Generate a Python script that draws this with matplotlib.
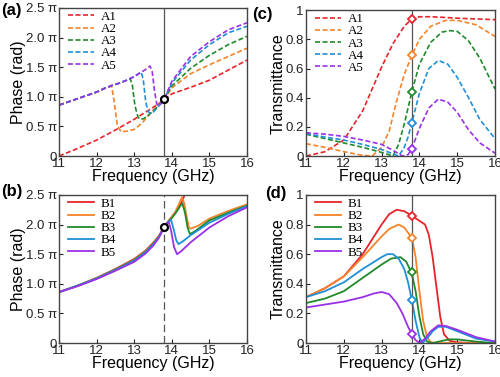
import numpy as np
import matplotlib
matplotlib.use("Agg")
import matplotlib.pyplot as plt

plt.rcParams['font.family'] = ['Liberation Sans', 'DejaVu Sans']

# colours for series 1..5
colors = ['#e8232a', '#f5842a', '#1f8a2a', '#1f8fd6', '#9b30e8']

# ---- (a) phase of A1..A5 (units of pi)
a_f = [
    [11, 11.5, 12, 12.5, 13, 13.5, 13.8, 14, 14.5, 15, 15.5, 16],
    [11, 11.5, 12, 12.2, 12.4, 12.46, 12.55, 12.65, 12.8, 13.0, 13.2, 13.4, 13.6, 13.8, 14, 14.5, 15, 15.5, 16],
    [11, 11.5, 12, 12.2, 12.4, 12.6, 12.8, 12.89, 12.95, 13.02, 13.1, 13.15, 13.25, 13.4, 13.6, 13.8, 14, 14.5, 15, 15.5, 16],
    [11, 11.5, 12, 12.2, 12.4, 12.6, 12.8, 13.0, 13.18, 13.24, 13.3, 13.36, 13.42, 13.5, 13.65, 13.8, 14, 14.5, 15, 15.5, 16],
    [11, 11.5, 12, 12.2, 12.4, 12.6, 12.8, 13.0, 13.2, 13.3, 13.42, 13.48, 13.54, 13.6, 13.66, 13.72, 13.8, 14, 14.5, 15, 15.5, 16],
]
a_v = [
    [0, 0.13, 0.27, 0.44, 0.62, 0.82, 0.95, 1.05, 1.16, 1.28, 1.45, 1.62],
    [0.86, 0.97, 1.08, 1.14, 1.18, 0.95, 0.52, 0.41, 0.42, 0.45, 0.55, 0.7, 0.84, 0.96, 1.15, 1.39, 1.54, 1.68, 1.82],
    [0.86, 0.97, 1.08, 1.14, 1.19, 1.23, 1.28, 1.31, 1.2, 0.85, 0.66, 0.62, 0.63, 0.7, 0.82, 0.96, 1.18, 1.48, 1.7, 1.88, 2.02],
    [0.86, 0.97, 1.08, 1.14, 1.19, 1.23, 1.28, 1.34, 1.42, 1.3, 0.95, 0.76, 0.72, 0.74, 0.84, 0.96, 1.23, 1.62, 1.88, 2.08, 2.19],
    [0.86, 0.97, 1.08, 1.14, 1.19, 1.23, 1.28, 1.34, 1.42, 1.46, 1.52, 1.42, 1.1, 0.88, 0.85, 0.89, 0.96, 1.26, 1.68, 1.93, 2.13, 2.25],
]

# ---- (b) phase of B1..B5
b_f = [
    [11, 11.5, 12, 12.5, 13, 13.3, 13.5, 13.65, 13.8, 13.9, 14.0, 14.1, 14.2, 14.3, 14.4, 14.5, 15, 16],
    [11, 11.5, 12, 12.5, 13, 13.3, 13.5, 13.65, 13.8, 13.9, 14.0, 14.1, 14.2, 14.27, 14.33, 14.4, 14.45, 14.5, 14.7, 15, 15.5, 16],
    [11, 11.5, 12, 12.5, 13, 13.3, 13.5, 13.65, 13.8, 13.9, 14.0, 14.1, 14.2, 14.28, 14.35, 14.42, 14.48, 14.6, 15, 15.5, 16],
    [11, 11.5, 12, 12.5, 13, 13.3, 13.5, 13.65, 13.8, 13.9, 13.98, 14.05, 14.12, 14.18, 14.3, 14.5, 15, 15.5, 16],
    [11, 11.5, 12, 12.5, 13, 13.3, 13.5, 13.65, 13.8, 13.86, 13.92, 13.98, 14.06, 14.14, 14.25, 14.5, 15, 15.5, 16],
]
b_v = [
    [0.86, 0.97, 1.1, 1.25, 1.42, 1.56, 1.69, 1.8, 1.96, 2.05, 2.13, 2.21, 2.3, 2.43, 2.62, 2.8, 3.2, 3.5],
    [0.86, 0.97, 1.1, 1.24, 1.41, 1.55, 1.68, 1.8, 1.96, 2.05, 2.13, 2.22, 2.36, 2.46, 2.36, 2.12, 1.96, 1.93, 1.98, 2.1, 2.23, 2.34],
    [0.86, 0.97, 1.09, 1.24, 1.4, 1.54, 1.67, 1.79, 1.96, 2.04, 2.11, 2.19, 2.29, 2.36, 2.2, 1.95, 1.84, 1.88, 2.07, 2.2, 2.32],
    [0.86, 0.97, 1.09, 1.23, 1.39, 1.53, 1.66, 1.78, 1.96, 2.04, 2.08, 1.92, 1.73, 1.67, 1.72, 1.82, 2.03, 2.18, 2.31],
    [0.86, 0.96, 1.08, 1.22, 1.37, 1.51, 1.64, 1.77, 1.96, 2.01, 2.04, 1.9, 1.62, 1.5, 1.55, 1.7, 1.95, 2.14, 2.29],
]

# ---- (c) transmittance of A1..A5
c_f = [
    [11, 11.5, 12, 12.5, 13, 13.3, 13.6, 13.8, 14, 14.3, 14.7, 15, 15.5, 16],
    [11, 11.5, 12, 12.5, 12.75, 13, 13.2, 13.4, 13.6, 13.8, 14, 14.3, 14.7, 15, 15.5, 16],
    [11, 11.5, 12, 12.5, 13, 13.3, 13.45, 13.6, 13.8, 14, 14.3, 14.6, 14.8, 15, 15.3, 15.6, 16],
    [11, 11.5, 12, 12.5, 13, 13.45, 13.6, 13.7, 13.8, 14, 14.25, 14.5, 14.75, 15, 15.3, 15.6, 16],
    [11, 11.5, 12, 12.5, 13, 13.3, 13.55, 13.7, 13.8, 14, 14.25, 14.5, 14.75, 15, 15.3, 15.6, 16],
]
c_v = [
    [0, 0.03, 0.11, 0.31, 0.61, 0.77, 0.89, 0.94, 0.955, 0.955, 0.95, 0.945, 0.94, 0.935],
    [0.085, 0.06, 0.03, 0.005, 0, 0.06, 0.17, 0.38, 0.56, 0.69, 0.8, 0.89, 0.93, 0.93, 0.9, 0.82],
    [0.15, 0.12, 0.09, 0.06, 0.025, 0, 0.08, 0.22, 0.44, 0.63, 0.78, 0.85, 0.86, 0.855, 0.79, 0.67, 0.46],
    [0.155, 0.13, 0.11, 0.08, 0.045, 0, 0.06, 0.13, 0.23, 0.43, 0.6, 0.655, 0.63, 0.54, 0.4, 0.25, 0.12],
    [0.16, 0.15, 0.135, 0.11, 0.08, 0.04, 0, 0.01, 0.05, 0.19, 0.33, 0.39, 0.37, 0.3, 0.18, 0.09, 0.02],
]

# ---- (d) transmittance of B1..B5
d_f = [
    [11, 11.5, 12, 12.5, 13, 13.2, 13.4, 13.6, 13.8, 14.0, 14.15, 14.25, 14.35, 14.45, 14.55, 14.65, 14.8, 15, 15.5, 16],
    [11, 11.5, 12, 12.5, 13, 13.2, 13.45, 13.6, 13.8, 13.9, 14.0, 14.1, 14.2, 14.3, 14.5, 15, 16],
    [11, 11.5, 12, 12.5, 13, 13.25, 13.5, 13.65, 13.8, 13.9, 14.0, 14.1, 14.2, 14.35, 14.6, 14.8, 15, 15.5, 16],
    [11, 11.5, 12, 12.5, 13, 13.15, 13.3, 13.45, 13.6, 13.7, 13.8, 13.9, 14.0, 14.08, 14.2, 14.35, 14.5, 14.7, 15, 15.5, 16],
    [11, 11.5, 12, 12.5, 12.8, 13, 13.2, 13.4, 13.55, 13.7, 13.8, 13.9, 14.0, 14.15, 14.3, 14.5, 14.7, 15, 15.5, 16],
]
d_v = [
    [0.31, 0.37, 0.45, 0.6, 0.8, 0.87, 0.9, 0.89, 0.86, 0.825, 0.8, 0.73, 0.58, 0.38, 0.18, 0.06, 0.015, 0.005, 0, 0],
    [0.31, 0.37, 0.45, 0.58, 0.72, 0.77, 0.8, 0.78, 0.71, 0.58, 0.35, 0.15, 0.04, 0.005, 0, 0, 0],
    [0.27, 0.3, 0.35, 0.44, 0.53, 0.57, 0.58, 0.55, 0.47, 0.35, 0.18, 0.06, 0.01, 0, 0.015, 0.025, 0.025, 0.01, 0],
    [0.31, 0.35, 0.41, 0.5, 0.58, 0.6, 0.6, 0.57, 0.5, 0.41, 0.29, 0.15, 0.04, 0, 0.03, 0.08, 0.11, 0.11, 0.08, 0.03, 0.01],
    [0.24, 0.26, 0.28, 0.31, 0.335, 0.345, 0.33, 0.27, 0.2, 0.11, 0.06, 0.02, 0.0, 0.03, 0.08, 0.12, 0.115, 0.09, 0.04, 0.01],
]

f0 = 13.8
a_mark = 0.96
b_mark = 1.96
c_mark = [0.94, 0.69, 0.44, 0.23, 0.05]
d_mark = [0.86, 0.71, 0.48, 0.29, 0.06]

a_labels = ['A1', 'A2', 'A3', 'A4', 'A5']
b_labels = ['B1', 'B2', 'B3', 'B4', 'B5']
xticks = [11, 12, 13, 14, 15, 16]
phase_ticks = [0, 0.5, 1.0, 1.5, 2.0, 2.5]
phase_ticklabels = ['0', '0.5 π', '1.0 π', '1.5 π', '2.0 π', '2.5 π']
trans_ticks = [0, 0.2, 0.4, 0.6, 0.8, 1.0]
trans_ticklabels = ['0', '0.2', '0.4', '0.6', '0.8', '1']

fig = plt.figure(figsize=(5, 3.77), dpi=100)
ax_a = fig.add_axes([0.118, 0.586, 0.376, 0.393])
ax_c = fig.add_axes([0.612, 0.586, 0.378, 0.387])
ax_b = fig.add_axes([0.118, 0.090, 0.376, 0.393])
ax_d = fig.add_axes([0.612, 0.090, 0.378, 0.393])


def style(ax, ylabel, yticks, yticklabels, ylim):
    ax.set_xlim(11, 16)
    ax.set_ylim(*ylim)
    ax.set_xticks(xticks)
    ax.set_yticks(yticks)
    ax.set_yticklabels(yticklabels)
    ax.tick_params(direction='in', labelsize=9.5, length=3, width=0.8, pad=1.5, colors='#222222')
    ax.set_xlabel('Frequency (GHz)', fontsize=11.5, labelpad=-1)
    ax.set_ylabel(ylabel, fontsize=11.5, labelpad=0)
    for s in ax.spines.values():
        s.set_color('#444444')
        s.set_linewidth(1.0)


def legend(ax):
    ax.legend(loc='upper left', bbox_to_anchor=(0.02, 1.015), frameon=False,
              prop={'family': 'Liberation Serif', 'size': 9.4}, handlelength=2.0,
              labelspacing=0.0, handletextpad=0.5, borderaxespad=0.0, borderpad=0.4)


# (a)
for i in range(5):
    ax_a.plot(a_f[i], a_v[i], '--', color=colors[i], lw=1.2, label=a_labels[i], dashes=(3.0, 1.5))
ax_a.axvline(f0, color='#555555', lw=0.9)
ax_a.plot([f0], [a_mark], 'o', mfc='white', mec='black', mew=1.6, ms=5, zorder=5)
style(ax_a, 'Phase (rad)', phase_ticks, phase_ticklabels, (0, 2.5))
legend(ax_a)

# (b)
for i in range(5):
    ax_b.plot(b_f[i], b_v[i], '-', color=colors[i], lw=1.3, label=b_labels[i])
ax_b.axvline(f0, color='#555555', lw=0.9, ls=(0, (6, 3)))
ax_b.plot([f0], [b_mark], 'o', mfc='white', mec='black', mew=1.6, ms=5, zorder=5)
style(ax_b, 'Phase (rad)', phase_ticks, phase_ticklabels, (0, 2.5))
legend(ax_b)

# (c)
for i in range(5):
    ax_c.plot(c_f[i], c_v[i], '--', color=colors[i], lw=1.2, label=a_labels[i], dashes=(3.0, 1.5))
ax_c.axvline(f0, color='#555555', lw=0.9)
for i in range(5):
    ax_c.plot([f0], [c_mark[i]], 'D', mfc='white', mec=colors[i], mew=1.3, ms=4.5, zorder=5)
style(ax_c, 'Transmittance', trans_ticks, trans_ticklabels, (0, 1.0))
legend(ax_c)

# (d)
for i in range(5):
    ax_d.plot(d_f[i], d_v[i], '-', color=colors[i], lw=1.3, label=b_labels[i])
ax_d.axvline(f0, color='#555555', lw=0.9)
for i in range(5):
    ax_d.plot([f0], [d_mark[i]], 'D', mfc='white', mec=colors[i], mew=1.3, ms=4.5, zorder=5)
style(ax_d, 'Transmittance', trans_ticks, trans_ticklabels, (0, 1.0))
legend(ax_d)

for txt, x, y in [('(a)', 0.002, 0.972), ('(c)', 0.505, 0.962), ('(b)', 0.002, 0.493), ('(d)', 0.53, 0.487)]:
    fig.text(x, y, txt, fontsize=12, fontweight='bold', va='center', ha='left')

fig.savefig('out.png', dpi=100)
